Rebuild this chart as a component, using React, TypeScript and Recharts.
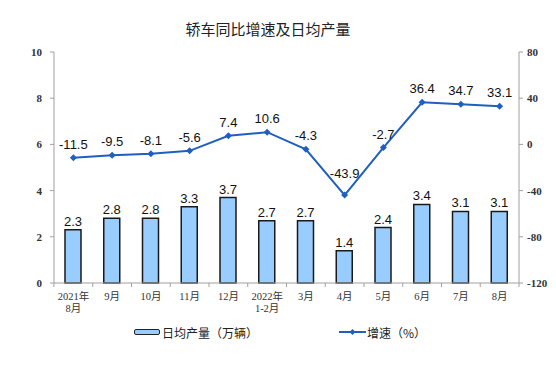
import { ComposedChart, Bar, Line, XAxis, YAxis, LabelList, Legend } from 'recharts';

// 月份 (two-line labels split on \n)
const months = ['2021年\n8月', '9月', '10月', '11月', '12月', '2022年\n1-2月', '3月', '4月', '5月', '6月', '7月', '8月'];
// 日均产量（万辆）
const dailyOutput = [2.3, 2.8, 2.8, 3.3, 3.7, 2.7, 2.7, 1.4, 2.4, 3.4, 3.1, 3.1];
// 增速（%）
const growth = [-11.5, -9.5, -8.1, -5.6, 7.4, 10.6, -4.3, -43.9, -2.7, 36.4, 34.7, 33.1];
const leftTicks = [0, 2, 4, 6, 8, 10];
const rightTicks = [-120, -80, -40, 0, 40, 80];

const data = months.map((m, i) => ({ month: m, output: dailyOutput[i], growth: growth[i] }));

const BLUE = '#1f5fbf';
const BAR = '#99ccff';
const AXIS = '#a0a0a0';

// x tick: label lines + small tick marks at category boundaries
const MonthTick = (props: any) => {
  const { x, y, payload, index } = props;
  const half = 19.4;
  const lines = String(payload.value).split('\n');
  return (
    <g>
      <line x1={x - half} y1={y - 8} x2={x - half} y2={y - 4} stroke={AXIS} />
      {index === months.length - 1 && <line x1={x + half} y1={y - 8} x2={x + half} y2={y - 4} stroke={AXIS} />}
      {lines.map((l, k) => (
        <text key={k} x={x} y={y + 9 + k * 12} textAnchor="middle" fontSize={10.5}
          fontFamily="'Liberation Serif', 'Noto Sans CJK SC', serif" fill="#333">{l}</text>
      ))}
    </g>
  );
};

const Diamond = (props: any) => {
  const { cx, cy } = props;
  if (cx == null || cy == null) return null;
  return <path d={`M${cx},${cy - 3.5} L${cx + 3.5},${cy} L${cx},${cy + 3.5} L${cx - 3.5},${cy} Z`} fill={BLUE} />;
};

const labelFont = "'Liberation Sans', Arial, sans-serif";

// line label: lifted further at the V-shaped dip so it clears both segments
const GrowthLabel = (props: any) => {
  const { x, y, value, index } = props;
  const prev = growth[index - 1];
  const next = growth[index + 1];
  const dip = prev != null && next != null && value < prev && value < next;
  return (
    <text x={x} y={y - (dip ? 17 : 9)} textAnchor="middle" fill="#111" fontSize={13} fontFamily={labelFont}>
      {Number(value).toFixed(1)}
    </text>
  );
};

const LegendContent = () => (
  <div style={{ position: 'relative', height: 20, fontFamily: "'Noto Sans CJK SC', sans-serif", fontSize: 12, color: '#222' }}>
    <div style={{ position: 'absolute', left: 134, top: 3, width: 24, height: 4, background: BAR, border: '1.5px solid #222', borderRadius: 2 }} />
    <span style={{ position: 'absolute', left: 162, top: -2 }}>日均产量（万辆）</span>
    <svg style={{ position: 'absolute', left: 339, top: 0 }} width={28} height={12}>
      <line x1={0} y1={6} x2={27} y2={6} stroke={BLUE} strokeWidth={2} />
      <path d="M13.5,3 L16.5,6 L13.5,9 L10.5,6 Z" fill={BLUE} />
    </svg>
    <span style={{ position: 'absolute', left: 367, top: -2 }}>增速（%）</span>
  </div>
);

const axisTick = { fontSize: 11, fontFamily: "'Liberation Serif', serif", fill: '#333', fontWeight: 'bold' as const };

export default function App() {
  return (
    <div style={{ position: 'absolute', left: 0, top: 0, width: 556, height: 382, background: '#fff' }}>
      <div style={{ position: 'absolute', left: 0, width: 556, top: 18, textAlign: 'center', fontSize: 15,
        fontFamily: "'Noto Sans CJK SC', sans-serif", color: '#222', marginLeft: -10 }}>
        轿车同比增速及日均产量
      </div>
      <ComposedChart width={556} height={382} data={data} margin={{ top: 52, right: 0, left: 0, bottom: 59 }}
        barCategoryGap={0}>
        <XAxis dataKey="month" interval={0} height={40} tickLine={false} stroke={AXIS} tick={<MonthTick />} />
        <YAxis yAxisId="left" domain={[0, 10]} ticks={leftTicks} width={54} stroke={AXIS} tickSize={4}
          tickMargin={8} tick={axisTick} />
        <YAxis yAxisId="right" orientation="right" domain={[-120, 80]} ticks={rightTicks} width={37} stroke={AXIS}
          tickSize={4} tickMargin={4} tick={{ ...axisTick, textAnchor: 'start' }} />
        <Legend layout="horizontal" verticalAlign="middle" align="center" content={<LegendContent />}
          wrapperStyle={{ top: 326, left: 0, width: 556 }} />
        <Bar yAxisId="left" dataKey="output" fill={BAR} stroke="#1a1a1a" strokeWidth={1.5} barSize={16}
          isAnimationActive={false}>
          <LabelList dataKey="output" position="top" offset={4} fill="#111" fontSize={13} fontFamily={labelFont}
            formatter={(v: any) => Number(v).toFixed(1)} />
        </Bar>
        <Line yAxisId="right" dataKey="growth" stroke={BLUE} strokeWidth={2} dot={<Diamond />} activeDot={false}
          type="linear" isAnimationActive={false}>
          <LabelList dataKey="growth" content={<GrowthLabel />} />
        </Line>
      </ComposedChart>
    </div>
  );
}
